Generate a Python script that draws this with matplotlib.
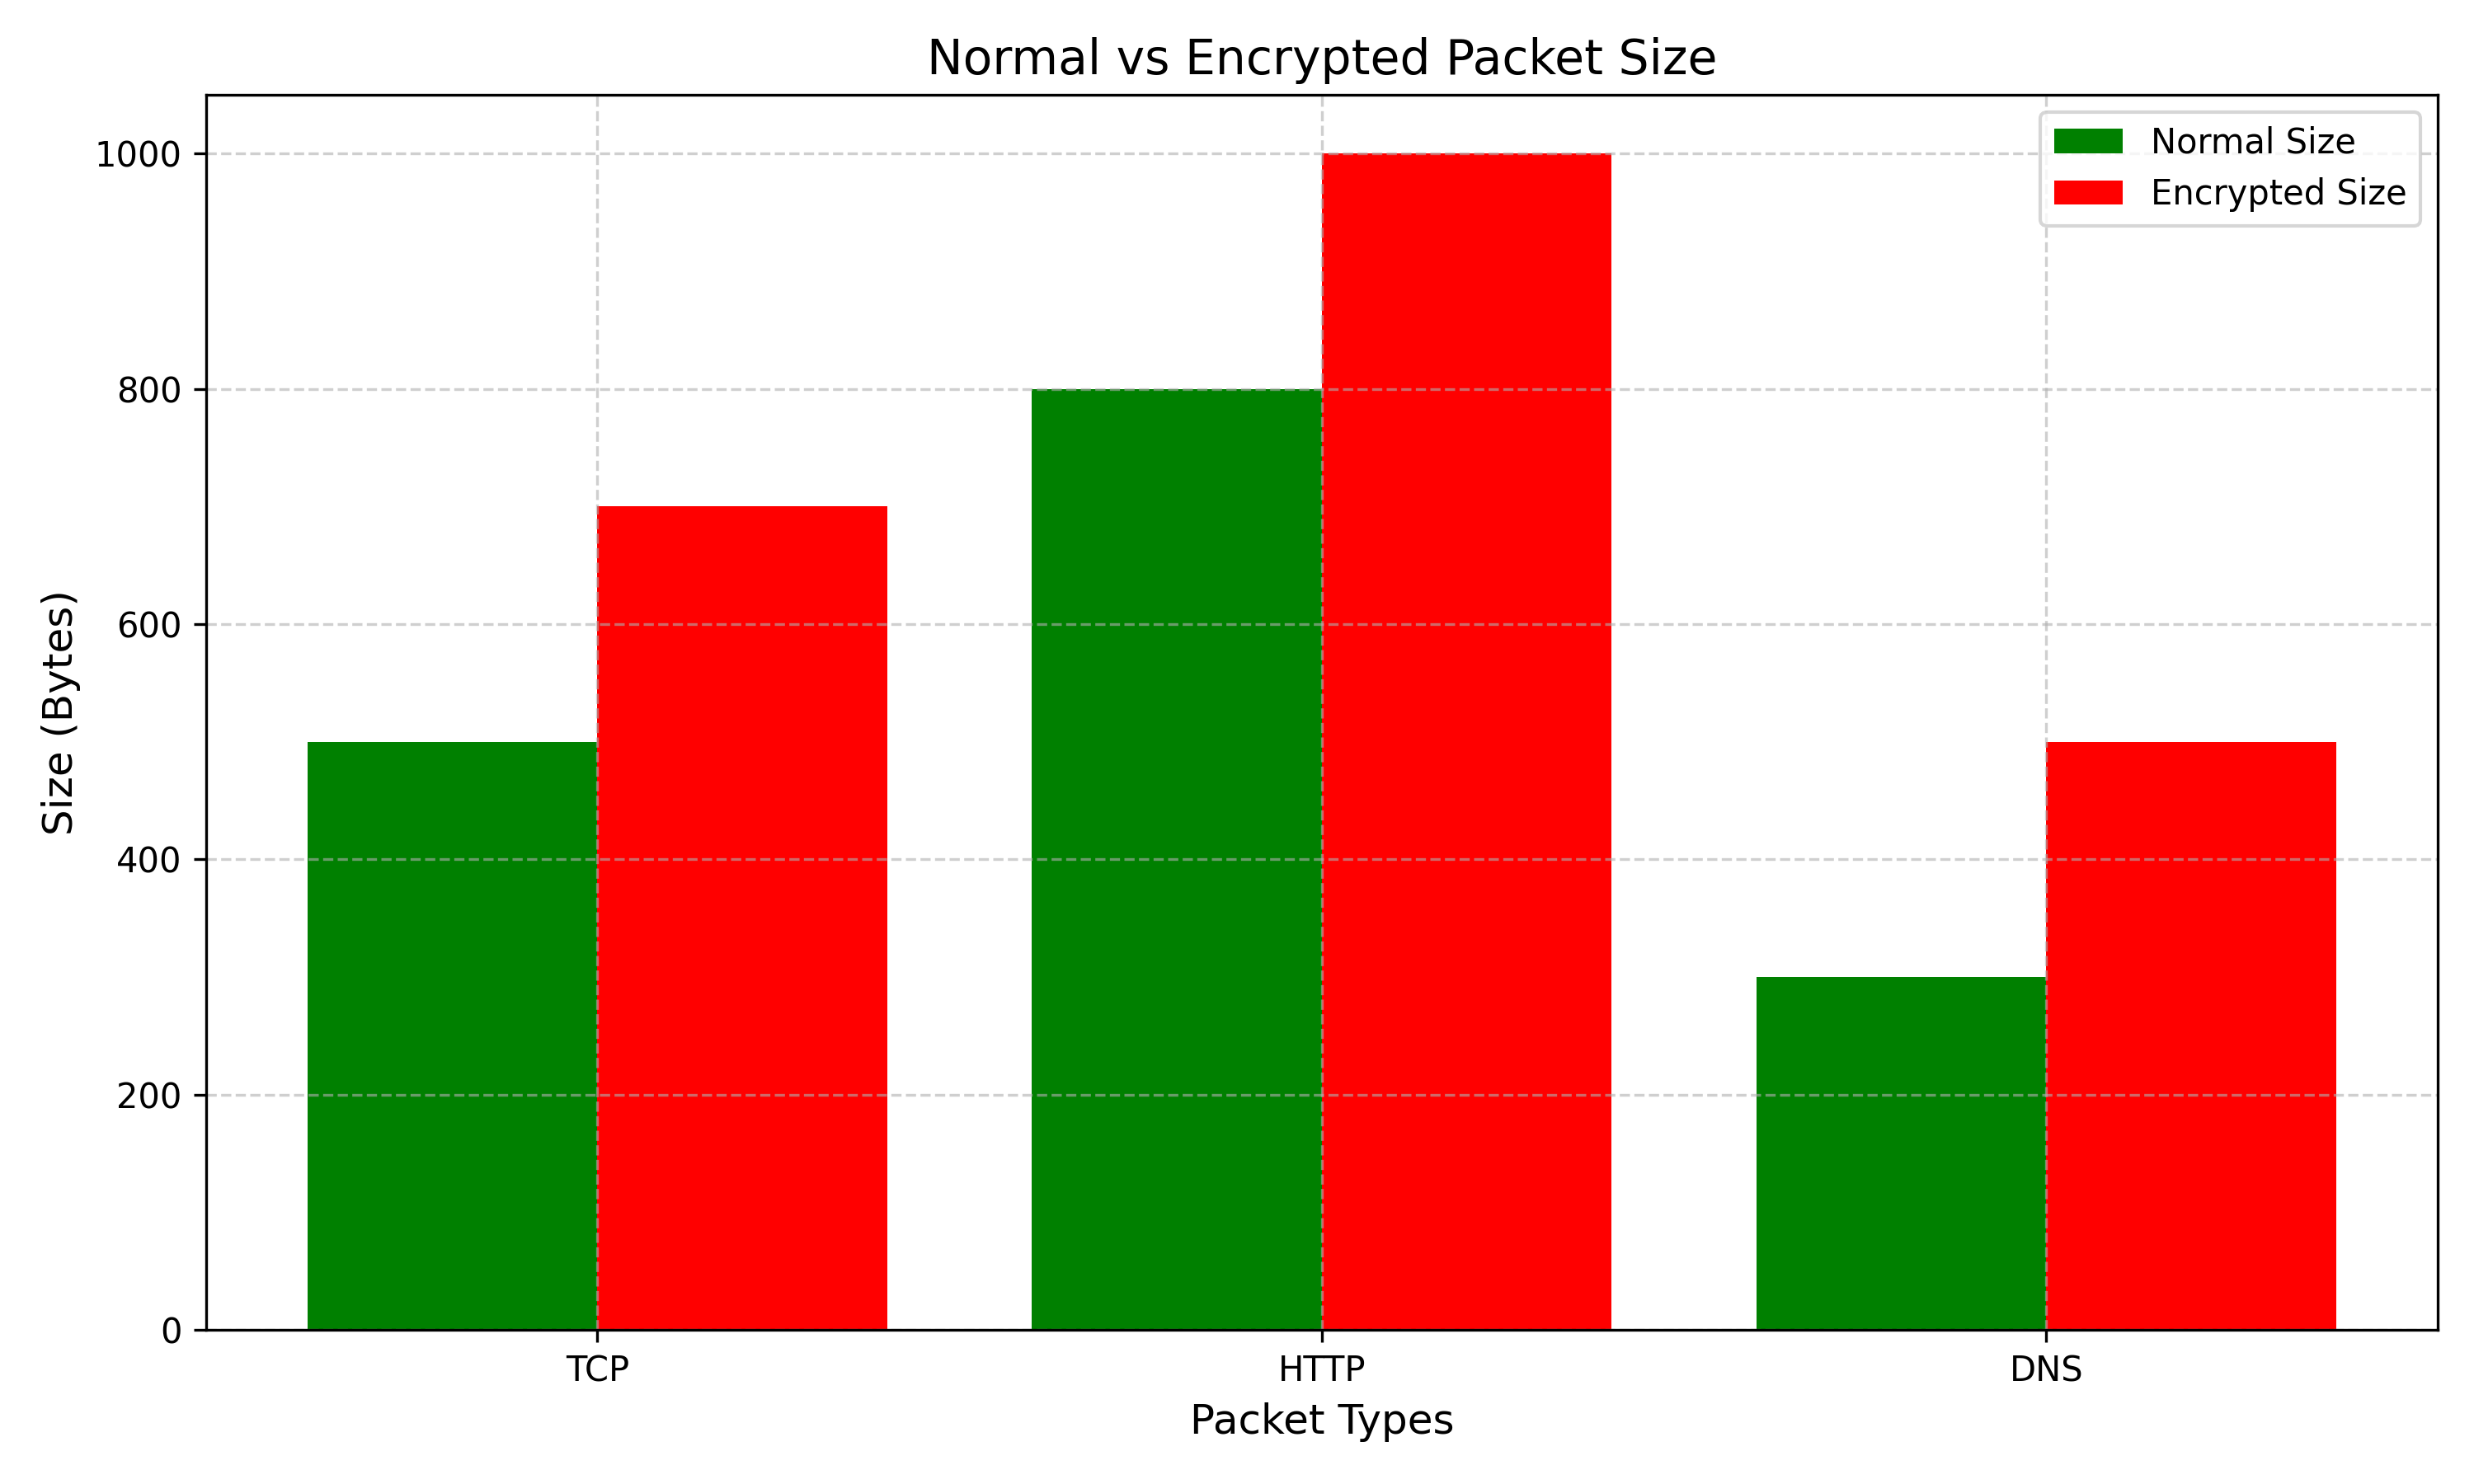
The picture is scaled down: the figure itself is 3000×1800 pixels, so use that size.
import numpy as np
import matplotlib.pyplot as plt

packet_types = ["TCP", "HTTP", "DNS"]
normal_size = [500, 800, 300]
encrypted_size = [700, 1000, 500]

x = np.arange(len(packet_types))
width = 0.4

fig, ax = plt.subplots(figsize=(10, 6), dpi=300)
ax.bar(x - width / 2, normal_size, width, color="green", label="Normal Size")
ax.bar(x + width / 2, encrypted_size, width, color="red", label="Encrypted Size")

ax.set_xticks(x)
ax.set_xticklabels(packet_types)
ax.set_xlabel("Packet Types", fontsize=12)
ax.set_ylabel("Size (Bytes)", fontsize=12)
ax.set_title("Normal vs Encrypted Packet Size", fontsize=14)
ax.legend()
# grid drawn over the bars, as in the original
ax.grid(True, linestyle="--", alpha=0.6)

fig.subplots_adjust(left=0.0833, right=0.9853, bottom=0.1039, top=0.9361)
plt.savefig("out.png")
